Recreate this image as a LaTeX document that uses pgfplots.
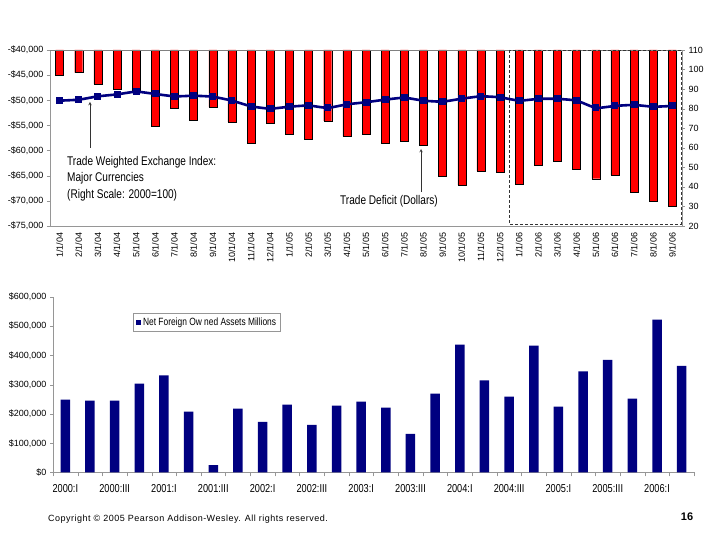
\documentclass[border=0pt]{standalone}
\usepackage{pgfplots}
\pgfplotsset{compat=1.18}
\usepackage{pgfplotstable}
\usepackage{fontspec}
\setmainfont{Liberation Sans}
\newfontfamily\narrowfont[FakeStretch=0.8]{Liberation Sans}
\newfontfamily\spacedfont[LetterSpace=5.5]{Liberation Sans}
\definecolor{navy}{RGB}{0,0,128}
\definecolor{axgray}{RGB}{150,150,150}

\pgfplotstableread{
i val idx
0 -45100 84.1
1 -44500 84.6
2 -46800 86.3
3 -47800 87.3
4 -48300 88.7
5 -55100 87.5
6 -51500 86.3
7 -53900 86.6
8 -51300 86.1
9 -54300 84.1
10 -58600 81.2
11 -54500 80.0
12 -56800 81.0
13 -57800 81.6
14 -54100 80.4
15 -57200 82.2
16 -56800 83.3
17 -58600 84.6
18 -58200 85.6
19 -59000 84.1
20 -65100 83.6
21 -66800 85.1
22 -64100 86.3
23 -64300 85.8
24 -66700 84.1
25 -63000 85.0
26 -62200 85.0
27 -63800 84.1
28 -65600 80.4
29 -64900 81.4
30 -68200 81.9
31 -70000 81.0
32 -71000 81.4
}\topdata

\pgfplotstableread{
i val
0 249000
1 245500
2 245500
3 303400
4 331800
5 208000
6 25000
7 218200
8 172700
9 231800
10 162500
11 228400
12 242000
13 221600
14 131800
15 269300
16 437500
17 314800
18 259100
19 434100
20 225000
21 345500
22 385200
23 252300
24 522700
25 364800
}\botdata

\begin{document}
\begin{tikzpicture}[x=1bp,y=1bp]
\useasboundingbox (0,0) rectangle (720,540);
\fill[white] (0,0) rectangle (720,540);

% ---------- top chart: trade deficit bars ----------
\begin{axis}[
  at={(50bp,314bp)}, anchor=south west, scale only axis,
  width=632bp, height=176bp,
  xmin=-0.5, xmax=32.5, ymin=-75000, ymax=-40000,
  axis line style={draw=axgray},
  xtick=data,
  xticklabels={1/1/04,2/1/04,3/1/04,4/1/04,5/1/04,6/1/04,7/1/04,8/1/04,9/1/04,10/1/04,11/1/04,12/1/04,1/1/05,2/1/05,3/1/05,4/1/05,5/1/05,6/1/05,7/1/05,8/1/05,9/1/05,10/1/05,11/1/05,12/1/05,1/1/06,2/1/06,3/1/06,4/1/06,5/1/06,6/1/06,7/1/06,8/1/06,9/1/06},
  xticklabel style={rotate=90, anchor=east, font=\fontsize{9bp}{11bp}\selectfont},
  xtick pos=bottom, ytick pos=left,
  ytick={-75000,-70000,-65000,-60000,-55000,-50000,-45000,-40000},
  yticklabels={{-\$75,000},{-\$70,000},{-\$65,000},{-\$60,000},{-\$55,000},{-\$50,000},{-\$45,000},{-\$40,000}},
  yticklabel style={font=\fontsize{9bp}{11bp}\selectfont},
  scaled y ticks=false,
  tick align=outside, major tick length=3bp,
  major x tick style={draw=none},
  tick style={axgray},
  ybar, bar width=8bp,
]
\addplot[fill=red, draw=black, line width=0.4bp] table[x=i,y=val]{\topdata};
\draw[gray, line width=0.6bp] (rel axis cs:0,1) -- (rel axis cs:1,1);
\end{axis}

% ---------- top chart: exchange index line (right scale) ----------
\begin{axis}[
  at={(50bp,314bp)}, anchor=south west, scale only axis,
  width=632bp, height=176bp,
  xmin=-0.5, xmax=32.5, ymin=20, ymax=110,
  axis x line=none, axis y line*=right,
  axis line style={draw=axgray,-},
  ytick={20,30,...,110},
  yticklabel style={font=\fontsize{9bp}{11bp}\selectfont, /pgf/number format/assume math mode=true},
  tick align=outside, major tick length=3bp, tick style={axgray},
]
\addplot[navy, line width=2.6bp, mark=square*, mark size=2.2bp, smooth, tension=0.3] table[x=i,y=idx]{\topdata};
\end{axis}

% annotations top
\node[anchor=west, inner sep=0] at (67,377.7) {\narrowfont\fontsize{12.6bp}{14bp}\selectfont Trade Weighted Exchange Index:};
\node[anchor=west, inner sep=0] at (67,361.7) {\narrowfont\fontsize{12.6bp}{14bp}\selectfont Major Currencies};
\node[anchor=west, inner sep=0] at (67,345) {\narrowfont\fontsize{12.6bp}{14bp}\selectfont (Right Scale: 2000=100)};
\draw[-stealth, line width=0.5bp, black!80] (90,392) -- (90,438);
\node[anchor=west, inner sep=0] at (340,338.3) {\narrowfont\fontsize{12.6bp}{14bp}\selectfont Trade Deficit (Dollars)};
\draw[-stealth, line width=0.5bp, black!80] (421,348) -- (421,391);
\draw[black!80, line width=0.8bp, dash pattern=on 3bp off 2bp] (509,490) rectangle (681,316);

% ---------- bottom chart ----------
\begin{axis}[
  at={(53bp,67.5bp)}, anchor=south west, scale only axis,
  width=641bp, height=175.5bp,
  xmin=-0.5, xmax=25.5, ymin=0, ymax=600000,
  axis x line*=bottom, axis y line*=left,
  axis line style={draw=axgray,-},
  xtick={0,2,...,24},
  xticklabels={2000:I,2000:III,2001:I,2001:III,2002:I,2002:III,2003:I,2003:III,2004:I,2004:III,2005:I,2005:III,2006:I},
  xticklabel style={font=\narrowfont\fontsize{11.5bp}{13bp}\selectfont, yshift=-5bp},
  minor xtick={-0.5,0.5,...,25.5},
  ytick={0,100000,...,600000},
  yticklabels={{\$0},{\$100,000},{\$200,000},{\$300,000},{\$400,000},{\$500,000},{\$600,000}},
  yticklabel style={font=\fontsize{9bp}{11bp}\selectfont},
  scaled y ticks=false,
  tick align=outside, major tick length=3bp, minor tick length=4bp,
  tick style={axgray},
  major x tick style={draw=none},
  ybar, bar width=9.5bp,
  legend style={at={(0.125,0.909)}, anchor=north west, draw=axgray, line width=0.5bp,
    font=\narrowfont\fontsize{10.5bp}{12bp}\selectfont, inner sep=2.5bp},
  legend cell align=left,
  legend image code/.code={\fill[navy] (0bp,-2.6bp) rectangle (5.2bp,2.6bp);},
]
\addplot[fill=navy, draw=none] table[x=i,y=val]{\botdata};
\addlegendentry{Net Foreign Ow ned Assets Millions}
\end{axis}

% footer
\node[anchor=west, inner sep=0] at (48,21) {\spacedfont\fontsize{9bp}{10bp}\selectfont Copyright \textcopyright\ 2005 Pearson Addison-Wesley. All rights reserved.};
\node[anchor=center, inner sep=0] at (687,23) {\fontsize{11bp}{13bp}\selectfont\bfseries 16};
\end{tikzpicture}
\end{document}
